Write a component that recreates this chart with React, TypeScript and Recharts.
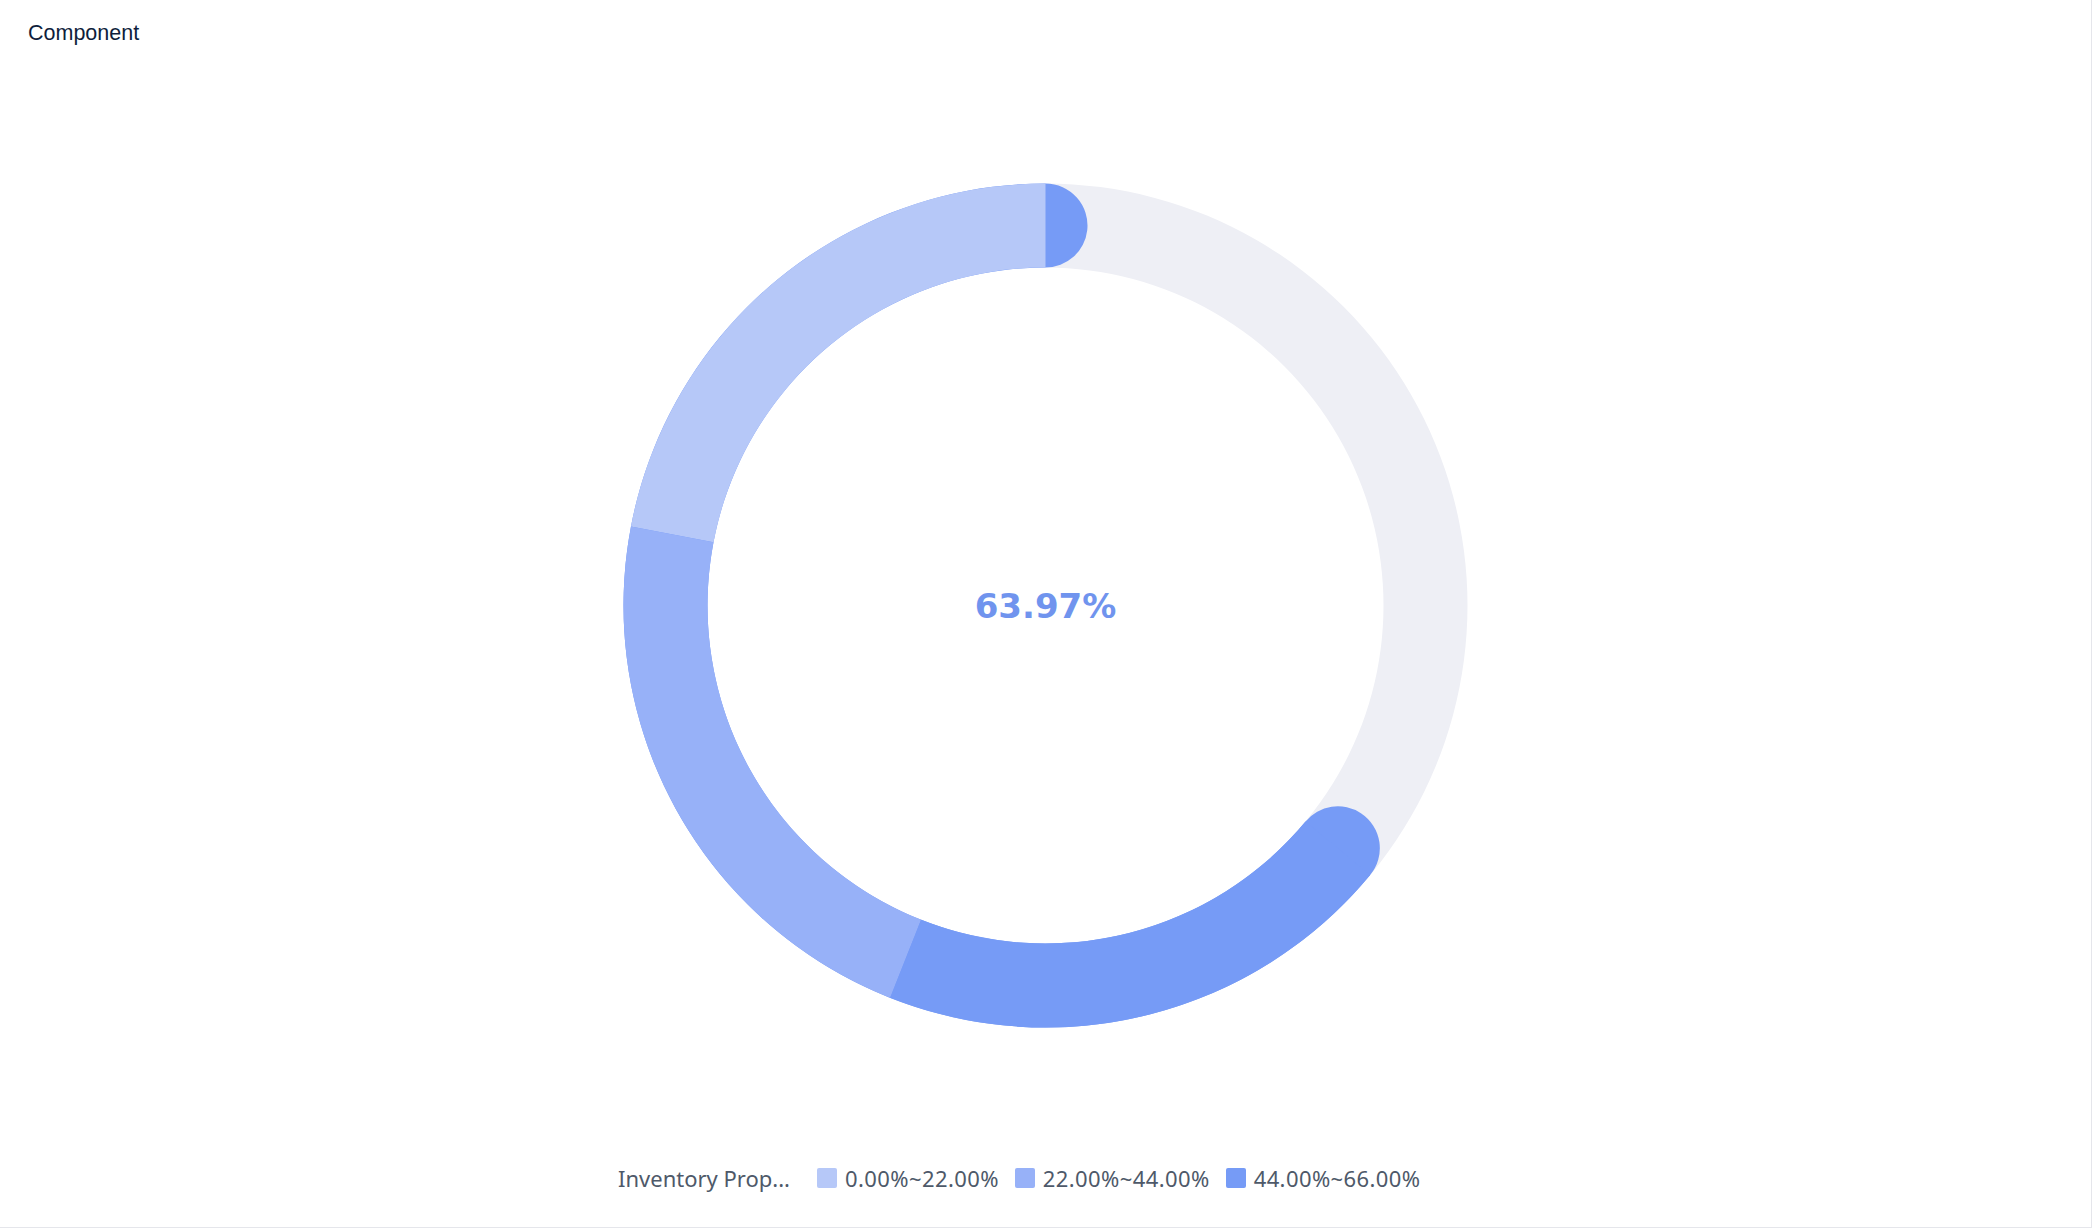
import { PieChart, Pie, Cell, Label, Legend } from "recharts";

// values
const segmentLabels = ["0.00%~22.00%", "22.00%~44.00%", "44.00%~66.00%"];
const segmentBounds = [0, 22, 44, 66];
const segmentColors = ["#b6c8f8", "#97b1f8", "#769bf6"];
const progressValue = 63.97;
const legendTitle = "Inventory Prop...";
const chartTitle = "Component";

const TRACK = "#eeeff5";
const CX = 1045.5;
const CY = 605.5;
const INNER = 338;
const OUTER = 422;
const CAP = (OUTER - INNER) / 2;

// segments up to the current value (last one cut at progressValue)
const segmentData = segmentBounds.slice(1).map((end, i) => {
  const start = segmentBounds[i];
  const stop = Math.min(end, progressValue);
  return { name: segmentLabels[i], value: Math.max(0, stop - start) };
});

const trackData = [{ name: "track", value: 100 }];
const progressData = [{ name: "progress", value: progressValue }];

// angle the round cap pokes out past the arc end (at mid radius)
const capAngle = (Math.asin(CAP / (INNER + CAP)) * 180) / Math.PI;
const progressEnd = 90 + (progressValue / 100) * 360;

function LegendContent() {
  return (
    <div
      style={{
        display: "flex",
        alignItems: "center",
        height: 24,
        fontFamily: "'Noto Sans', sans-serif",
        fontSize: 22,
        color: "#4e5969",
        whiteSpace: "nowrap",
      }}
    >
      <span style={{ marginRight: 27 }}>{legendTitle}</span>
      {segmentLabels.map((label, i) => (
        <span
          key={label}
          style={{ display: "flex", alignItems: "center", marginRight: 16 }}
        >
          <span
            style={{
              display: "inline-block",
              width: 20,
              height: 20,
              borderRadius: 2,
              background: segmentColors[i],
              marginRight: 8,
            }}
          />
          <span style={{ letterSpacing: 0.4 }}>{label}</span>
        </span>
      ))}
    </div>
  );
}

export default function App() {
  return (
    <div
      style={{
        position: "absolute",
        left: 0,
        top: 0,
        width: 2091,
        height: 1227,
        borderRight: "1px solid #e5e6eb",
        borderBottom: "1px solid #e5e6eb",
        background: "#fff",
      }}
    >
      <div
        style={{
          position: "absolute",
          left: 28,
          top: 21,
          fontFamily: "'Liberation Sans', Arial, sans-serif",
          fontSize: 21.5,
          lineHeight: "24px",
          color: "#0f1e3c",
          zIndex: 1,
        }}
      >
        {chartTitle}
      </div>
      <PieChart
        width={2091}
        height={1227}
        margin={{ top: 0, right: 0, bottom: 0, left: 0 }}
      >
        <Pie
          data={trackData}
          dataKey="value"
          cx={CX}
          cy={CY}
          innerRadius={INNER}
          outerRadius={OUTER}
          startAngle={90}
          endAngle={450}
          fill={TRACK}
          stroke="none"
          isAnimationActive={false}
        />
        <Pie
          data={progressData}
          dataKey="value"
          cx={CX}
          cy={CY}
          innerRadius={INNER}
          outerRadius={OUTER}
          startAngle={90 - capAngle}
          endAngle={progressEnd + capAngle}
          cornerRadius={CAP}
          fill={segmentColors[2]}
          stroke="none"
          isAnimationActive={false}
        />
        <Pie
          data={segmentData}
          dataKey="value"
          cx={CX}
          cy={CY}
          innerRadius={INNER}
          outerRadius={OUTER}
          startAngle={90}
          endAngle={progressEnd}
          stroke="none"
          isAnimationActive={false}
        >
          {segmentData.map((d, i) => (
            <Cell key={d.name} fill={segmentColors[i]} />
          ))}
          <Label
            value={`${progressValue.toFixed(2)}%`}
            position="center"
            fill="#7094ee"
            dy={4}
            style={{
              fontFamily: "'DejaVu Sans', sans-serif",
              fontWeight: 700,
              fontSize: 34,
            }}
          />
        </Pie>
        <Legend
          content={() => <LegendContent />}
          wrapperStyle={{ left: 618, top: 1166, width: "auto" }}
        />
      </PieChart>
    </div>
  );
}
